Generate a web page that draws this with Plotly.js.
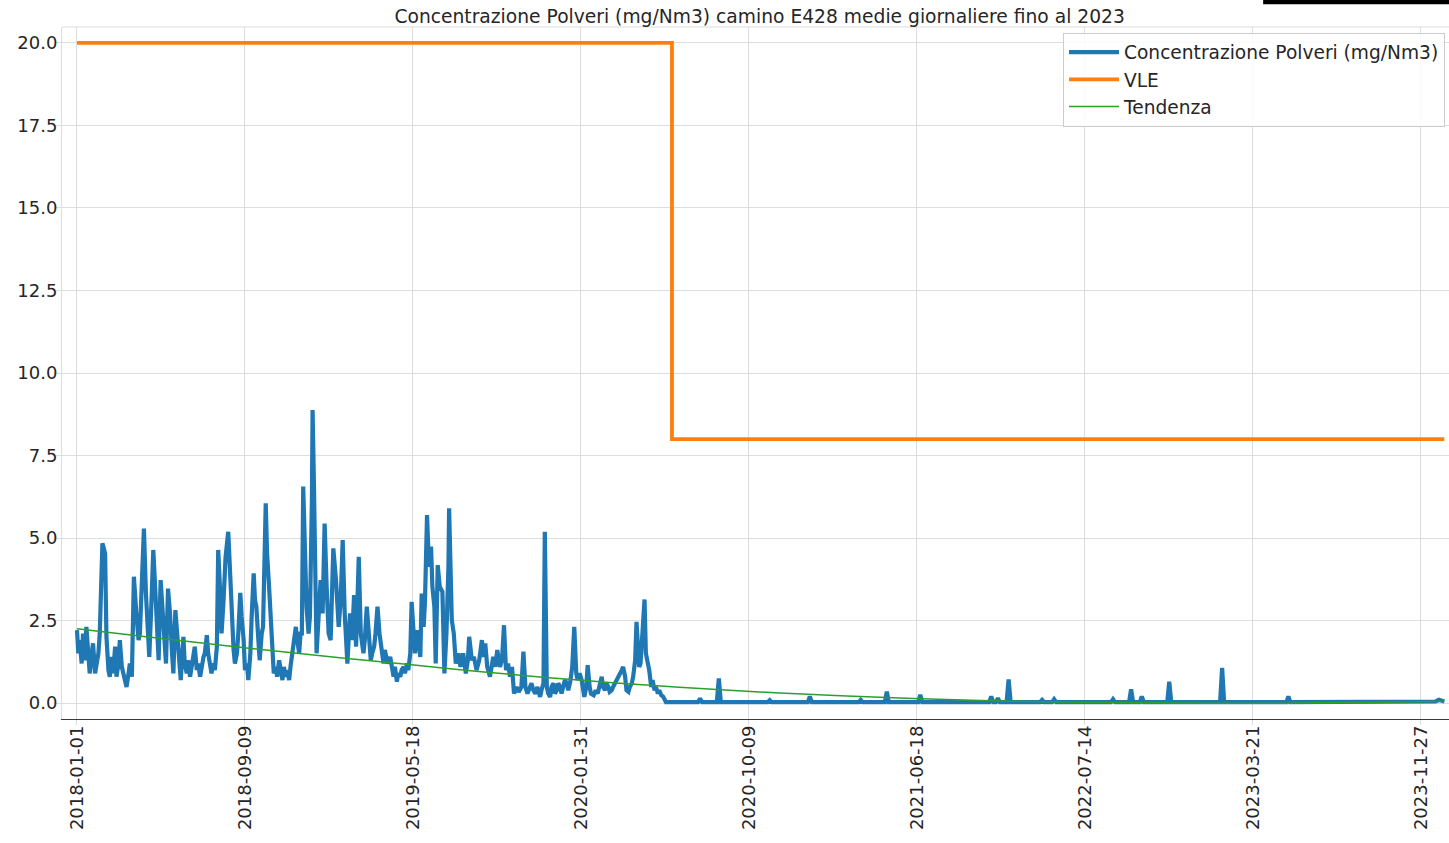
<!DOCTYPE html>
<html>
<head>
<meta charset="utf-8">
<script src="https://cdn.plot.ly/plotly-3.0.1.min.js"></script>
<style>html,body{margin:0;padding:0;background:#fff;}#chart{width:1449px;height:843px;}</style>
</head>
<body>
<div id="chart"></div>
<script>
// Tick labels (dates) and their row positions (daily samples)
const tickPos = [0, 251, 502, 753, 1004, 1255, 1506, 1757, 2008];
const tickLabels = ["2018-01-01","2018-09-09","2019-05-18","2020-01-31","2020-10-09","2021-06-18","2022-07-14","2023-03-21","2023-11-27"];

// Concentrazione Polveri (mg/Nm3): row index and value
const giorno = [0,2,4,7,9,12,14,17,19,22,24,27,29,32,34,38,42,44,47,49,52,54,57,59,62,64,67,69,72,74,77,79,82,85,89,92,94,97,100,103,106,108,111,114,117,120,122,125,128,130,133,136,139,142,144,147,150,152,155,159,161,164,166,169,171,174,176,179,181,184,186,189,191,194,196,199,201,204,206,209,211,214,216,219,222,226,229,231,234,236,239,241,244,246,249,251,254,256,259,261,264,266,268,271,273,276,278,282,284,287,289,292,294,297,299,302,304,307,309,312,314,317,319,322,324,327,329,332,334,
336,338,341,343,346,348,351,352,354,356,358,361,364,367,370,373,376,379,383,387,391,394,397,400,404,408,411,414,417,421,424,428,430,433,436,439,441,444,446,449,452,455,458,460,464,468,470,473,475,478,480,483,485,488,490,493,495,498,500,503,505,508,510,513,515,518,520,523,525,527,529,531,534,536,539,542,546,549,552,555,556,558,560,563,566,570,573,577,581,584,586,590,593,597,601,605,607,610,613,617,620,622,625,628,632,635,638,641,644,647,650,653,657,660,664,667,670,673,676,679,682,685,688,692,
694,697,699,702,704,707,709,712,714,717,719,722,724,727,729,732,734,737,740,743,746,748,751,754,758,761,763,766,768,772,775,778,781,784,786,789,791,794,796,799,801,804,807,811,814,816,819,821,824,826,829,831,834,836,838,840,842,845,848,850,853,855,858,860,863,865,868,870,873,876,880,
928,931,934,956,959,962,1032,1035,1038,1092,1095,1098,1168,1171,1174,1207,1210,1213,1257,1260,1263,1363,1366,1369,1373,1376,1379,1389,1392,1395,1439,1442,1445,1457,1460,1463,1545,1548,1551,1572,1575,1578,1588,1591,1594,1629,1632,1635,1708,1711,1714,1807,1810,1813,1924,1927,1930,2030,2035,2040,2043];
const polveri = [2.21,1.51,1.91,1.20,2.11,1.30,2.31,1.20,0.90,1.51,1.81,0.90,1.10,1.51,2.11,4.84,4.54,2.01,1.00,0.80,1.40,0.90,1.71,0.80,1.20,1.91,1.10,0.90,0.70,0.49,0.90,1.20,0.80,3.83,2.62,1.91,2.11,3.53,5.29,3.32,2.11,1.40,2.92,4.64,3.42,1.91,1.30,3.73,2.92,2.11,1.20,3.47,2.72,1.51,0.90,2.82,1.91,1.20,0.70,2.01,1.20,0.90,1.30,0.80,1.10,1.51,1.71,1.00,1.20,0.80,1.10,1.40,1.51,2.06,1.51,1.10,0.90,1.20,1.00,1.71,4.64,3.32,2.11,3.12,4.43,5.19,3.53,2.82,1.61,1.20,1.51,2.11,3.34,2.62,1.91,1.00,1.20,0.70,1.51,2.62,3.93,3.12,2.92,1.91,1.30,2.11,2.31,6.05,4.54,3.53,2.72,1.51,0.90,1.10,0.80,1.30,1.00,0.70,1.10,0.80,1.00,0.70,1.10,1.51,1.91,2.31,1.91,1.51,2.11,
2.11,6.56,3.73,2.92,2.11,2.62,6.15,8.88,6.66,3.73,1.51,2.62,3.73,2.72,5.44,3.53,2.11,1.91,4.69,3.73,2.31,3.12,4.94,2.72,1.20,2.72,1.91,3.27,1.71,4.43,2.11,1.51,1.91,2.92,2.11,1.30,1.51,1.71,2.11,2.92,2.11,1.51,1.20,1.61,1.20,1.40,1.10,0.80,1.10,0.65,0.90,0.80,1.00,1.10,0.90,1.20,1.00,1.51,3.07,2.11,1.51,2.21,1.91,1.40,3.32,2.31,3.12,5.70,4.64,4.13,4.74,3.53,2.92,1.20,4.18,3.53,3.37,0.90,2.11,4.13,5.90,3.93,2.52,2.11,1.20,1.51,1.10,1.51,0.90,1.30,2.01,1.30,1.40,1.00,1.30,1.91,1.40,1.81,1.10,0.80,1.20,1.40,1.10,1.61,1.10,1.30,2.36,1.00,1.20,0.80,1.10,0.29,0.49,0.34,0.49,1.56,0.49,0.29,0.44,0.60,0.39,0.29,0.49,0.19,
0.39,0.60,5.19,0.49,0.29,0.19,0.49,0.60,0.29,0.39,0.60,0.49,0.29,0.49,0.70,0.60,0.39,0.65,1.10,2.31,0.90,0.70,0.90,0.70,0.19,0.49,1.15,0.49,0.29,0.24,0.39,0.29,0.49,0.80,0.49,0.39,0.60,0.49,0.34,0.39,0.49,0.60,0.70,0.90,1.00,1.10,0.80,0.39,0.34,0.49,0.60,0.80,1.30,2.46,1.71,1.10,1.20,2.11,3.14,1.51,1.20,1.00,0.49,0.70,0.39,0.49,0.29,0.39,0.24,0.19,0.03,
0.03,0.14,0.03,0.03,0.75,0.03,0.03,0.09,0.03,0.03,0.20,0.03,0.03,0.10,0.03,0.03,0.35,0.03,0.03,0.25,0.03,0.03,0.20,0.03,0.03,0.15,0.03,0.03,0.72,0.03,0.03,0.10,0.03,0.03,0.12,0.03,0.03,0.12,0.03,0.03,0.42,0.03,0.03,0.20,0.03,0.03,0.65,0.03,0.03,1.07,0.03,0.03,0.20,0.03,0.03,0.06,0.03,0.05,0.10,0.06,0.05];

// VLE (limit value): step from 20 to 8
const vleGiorno = [0, 889, 2043];
const vleValori = [20, 8, 8];

// Tendenza (trend line)
const tendGiorno = [0,100,200,300,400,500,600,700,800,900,1000,1100,1200,1300,1400,1500,1600,1700,1800,1900,2000,2043];
const tendValori = [2.25,2.02,1.79,1.57,1.36,1.16,0.96,0.78,0.62,0.48,0.36,0.26,0.18,0.11,0.06,0.03,0.01,0.00,0.00,0.02,0.04,0.06];

const yTicks = [0, 2.5, 5, 7.5, 10, 12.5, 15, 17.5, 20];

const traces = [
  {x: giorno, y: polveri, type: 'scatter', mode: 'lines', name: 'Concentrazione Polveri (mg/Nm3)',
   line: {color: '#1f77b4', width: 4.2}},
  {x: vleGiorno, y: vleValori, type: 'scatter', mode: 'lines', name: 'VLE',
   line: {color: '#ff7f0e', width: 3.8, shape: 'hv'}},
  {x: tendGiorno, y: tendValori, type: 'scatter', mode: 'lines', name: 'Tendenza',
   line: {color: '#2ca02c', width: 1.5, shape: 'spline', smoothing: 0.6}}
];

const grid = '#dddddd';
const layout = {
  width: 1449, height: 843,
  margin: {l: 62, r: 0, t: 27, b: 124, pad: 0},
  paper_bgcolor: '#ffffff', plot_bgcolor: '#ffffff',
  font: {family: 'DejaVu Sans', color: '#262626', size: 18},
  showlegend: true,
  title: {text: 'Concentrazione Polveri (mg/Nm3) camino E428 medie giornaliere fino al 2023',
          font: {family: 'DejaVu Sans', size: 18.7, color: '#262626'},
          x: 0.503, xref: 'paper', xanchor: 'center', y: 0.981, yref: 'container', yanchor: 'middle'},
  xaxis: {range: [-22.4, 2050], tickmode: 'array', tickvals: tickPos, ticktext: tickLabels,
          tickangle: -90, tickfont: {size: 18, color: '#262626'}, ticklabelstandoff: -7,
          showgrid: true, gridcolor: grid, gridwidth: 1, zeroline: false,
          showline: true, linecolor: '#3a3a3a', linewidth: 1.3, mirror: false,
          ticks: 'outside', ticklen: 5, tickcolor: grid},
  yaxis: {range: [-0.48, 20.48], tickmode: 'array', tickvals: yTicks, tickformat: '.1f',
          tickfont: {size: 18, color: '#262626'}, ticklabelstandoff: -5,
          showgrid: true, gridcolor: grid, gridwidth: 1, zeroline: false,
          showline: true, linecolor: grid, linewidth: 1, mirror: true,
          ticks: 'outside', ticklen: 5, tickcolor: grid},
  legend: {x: 0.7217, xanchor: 'left', y: 0.992, yanchor: 'top',
           bgcolor: 'rgba(255,255,255,0.85)', bordercolor: '#cccccc', borderwidth: 1,
           font: {family: 'DejaVu Sans', size: 18.6, color: '#262626'}, itemwidth: 50,
           traceorder: 'normal'},
  shapes: [
    {type: 'line', xref: 'paper', yref: 'paper', x0: 0, x1: 1, y0: 1, y1: 1,
     line: {color: grid, width: 1}, layer: 'below'},
    {type: 'rect', xref: 'paper', yref: 'paper', x0: 0.866, x1: 1.0, y0: 1.033, y1: 1.039,
     fillcolor: '#000000', line: {width: 0}}
  ]
};

Plotly.newPlot('chart', traces, layout, {displayModeBar: false, staticPlot: true});
</script>
</body>
</html>
